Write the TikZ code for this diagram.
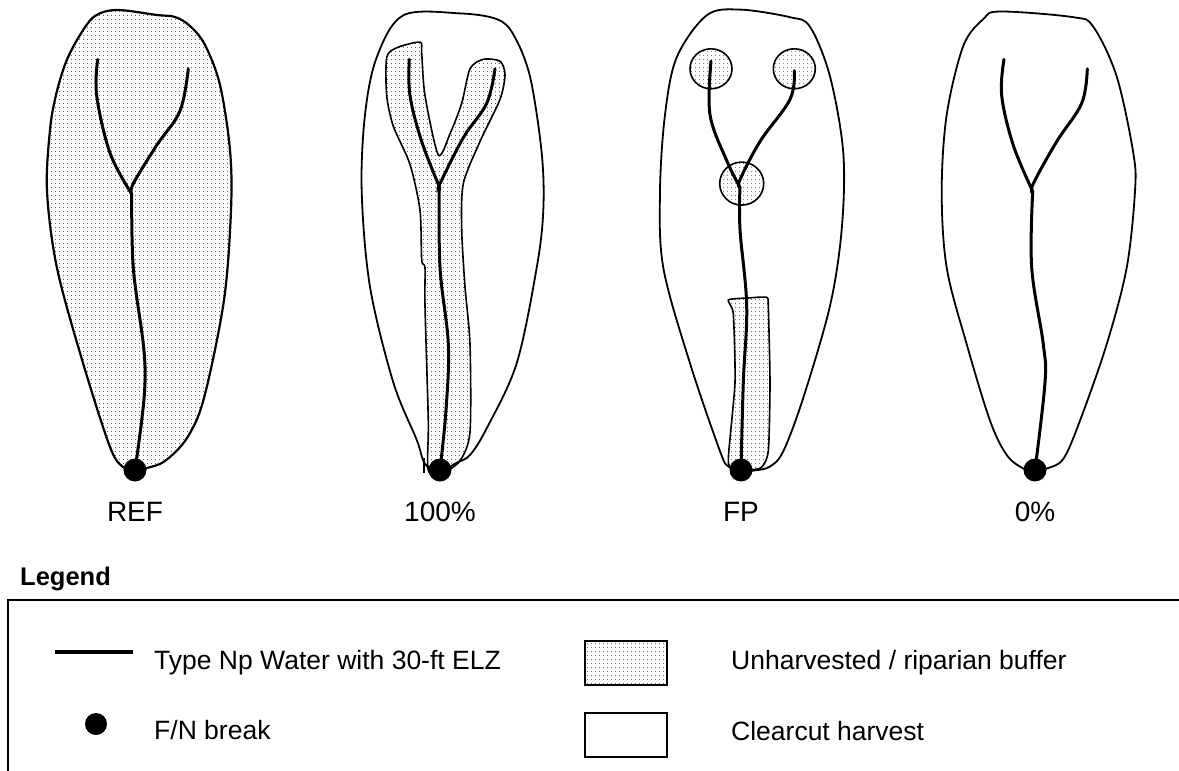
\documentclass[tikz,border=0pt]{standalone}
\usepackage{fontspec}
\setmainfont{Liberation Sans}
\usetikzlibrary{patterns.meta}
\tikzdeclarepattern{
  name=stipple,
  type=uncolored,
  bounding box={(-2pt,-2pt) and (2pt,2pt)},
  tile size={(4pt,4pt)},
  code={\pgfpathcircle{\pgfpointorigin}{0.6pt}\pgfusepath{fill}}
}
\tikzset{
  outline/.style={draw=black, line width=1.8pt},
  buffer/.style={draw=black, line width=1.6pt, pattern={stipple}, pattern color=black!85},
  stream/.style={draw=black, line width=3pt, line cap=round},
  fnbreak/.style={circle, fill=black, inner sep=0pt, minimum width=23pt, minimum height=21pt},
  lbl/.style={font=\fontsize{28}{32}\selectfont, inner sep=0pt},
  legtext/.style={font=\fontsize{26.5}{30}\selectfont, anchor=west, inner sep=0pt},
  legbox/.style={draw=black, line width=2.6pt}
}
\begin{document}
\begin{tikzpicture}[x=1pt, y=-1pt]
\useasboundingbox (0,0) rectangle (1179,771);

% ---------------- REF ----------------
\path[outline, pattern={stipple}, pattern color=black!85, line width=2.2pt]
  plot[smooth cycle, tension=0.55] coordinates {
  (117,10) (157,15) (175,17) (190,26) (205,45) (220,85) (230,150) (231,210)
  (224,300) (204,398) (187,438) (165,461) (147,468) (135,471) (123,467)
  (110,447) (83,363) (57,268) (47,191) (50,130) (56,95) (66,62) (80,35) (95,16)};
\draw[stream] plot[smooth, tension=0.6] coordinates {(97.7,59.3) (96.7,95.6) (110,153) (131.7,194)};
\draw[stream] plot[smooth, tension=0.6] coordinates {(188.3,68.8) (180,110.9) (156.7,145.3) (133.3,183.6) (131.7,195)};
\draw[stream] plot[smooth, tension=0.6] coordinates {(131.7,194) (133.3,267.7) (143.3,344) (145,382) (141.7,420.6) (135,470)};
\node[fnbreak] (d1) at (135,470) {};
\node[lbl] (l1) at (135,512) {REF};

% ---------------- 100% ----------------
\path[outline] plot[smooth cycle, tension=0.55] coordinates {
  (403.3,15.3) (460,13.4) (496.7,19.1) (513.3,34.4) (530,76.5) (541.7,153)
  (543.3,210.3) (536.7,267.7) (516.7,363.3) (486.7,428.3) (470,455) (456.7,462.7)
  (440,471) (425,464) (416.7,439.8) (393.3,382.4) (370,286.8) (361.7,191.2)
  (365,114.7) (376.7,57.4)};
\path[buffer] plot[smooth cycle, tension=0.45] coordinates {
  (386.7,57.4) (396.7,47.8) (420,42.1) (421.7,53.5) (425,95.6) (438.3,154.9)
  (450,133.8) (461.7,103.3) (470,68.8) (483.3,59.3) (500,61.2) (505,74.6)
  (500,99.4) (480,141.5) (463.3,183.6) (461.7,229.4) (465,286.8) (470,344.2)
  (470,432.1) (460,460.8) (443.3,472.3) (428.3,470.4) (428.3,420.6) (425,305.9)
  (425,267.7) (421.7,260) (420,210.3) (410,164.4) (393.3,126.2) (386.7,95.6)};
\draw[line width=1.4pt] (424,458) -- (424,473);
\draw[stream] plot[smooth, tension=0.6] coordinates {(409.3,59.3) (410,95.6) (421.7,141.5) (439.3,186.5)};
\draw[stream] plot[smooth, tension=0.6] coordinates {(495,68.8) (486.7,103.3) (463.3,137.7) (440,183.6) (439.3,187.4)};
\draw[stream] plot[smooth, tension=0.6] coordinates {(439.3,186.5) (440,267.7) (448.3,344.2) (446,410) (440,470)};
\node[fnbreak] (d2) at (440,470) {};
\node[lbl] (l2) at (440,512) {100\%};

% ---------------- FP ----------------
\path[outline] plot[smooth cycle, tension=0.55] coordinates {
  (706.7,15.3) (740,9.6) (790,17.2) (810,26.8) (830,76.5) (843.3,153)
  (841.7,229.4) (830,305.9) (803.3,397.7) (783.3,451.2) (770,466.5) (755,470.4)
  (741,471) (728.3,466.5) (720,451.2) (690,363.3) (663.3,267.7) (660,191.2)
  (665,114.7) (676.7,57.4)};
\path[buffer] (711,68.8) circle[x radius=21, y radius=20];
\path[buffer] (794.3,68.8) circle[x radius=21, y radius=20];
\path[buffer] (741.7,183.6) circle[x radius=22, y radius=21.5];
\path[buffer] plot[smooth cycle, tension=0.35] coordinates {
  (728.3,300) (748,298) (766.7,297.3) (768.3,305.9) (770,382.4) (768.3,451.2)
  (760,468.5) (733.3,468.5) (728.3,458.9) (735,382.4) (733.3,313.6)};
\draw[stream] plot[smooth, tension=0.6] coordinates {(711,61.2) (710,114.7) (726.7,160.6) (740,187.4)};
\draw[stream] plot[smooth, tension=0.6] coordinates {(794.3,70.7) (790,99.4) (760,141.5) (740,179.7) (740,187.4)};
\draw[stream] plot[smooth, tension=0.6] coordinates {(740,187.4) (740,229.4) (746.7,305.9) (743.3,382.4) (741,470)};
\node[fnbreak] (d3) at (741,470) {};
\node[lbl] (l3) at (741,512) {FP};

% ---------------- 0% ----------------
\path[outline] plot[smooth cycle, tension=0.55] coordinates {
  (1000,11.5) (1073.3,17.2) (1093.3,26.8) (1116.7,76.5) (1133.3,153) (1135,191.2)
  (1126.7,267.7) (1106.7,344.2) (1080,420.6) (1063.3,458.9) (1046.7,468.5)
  (1035,471) (1023.3,468.5) (1006.7,455) (990,420.6) (966.7,344.2) (946.7,267.7)
  (941.7,191.2) (946.7,114.7) (963.3,45.9) (983.3,19.1)};
\draw[stream] plot[smooth, tension=0.6] coordinates {(1004,59.3) (1001.7,95.6) (1013.3,145.3) (1033,192)};
\draw[stream] plot[smooth, tension=0.6] coordinates {(1087.3,68.8) (1081.7,103.3) (1056.7,141.5) (1033.3,183.6) (1032.7,193.1)};
\draw[stream] plot[smooth, tension=0.6] coordinates {(1032.7,192) (1031.7,267.7) (1043.3,344.2) (1045,382.4) (1035,470)};
\node[fnbreak] (d4) at (1035,470) {};
\node[lbl] (l4) at (1035,512) {0\%};

% ---------------- Legend ----------------
\node[anchor=west, inner sep=0pt, font=\bfseries\fontsize{25.5}{29}\selectfont] (legtitle) at (20,579) {Legend};
\coordinate (frameR) at (1179,600);
\coordinate (frameTL) at (8,600);
\coordinate (frameB) at (8,771);
\draw[line width=2.6pt] (frameR) -- (frameTL) -- (frameB);

\coordinate (wl1) at (55,652);
\coordinate (wl2) at (133,652);
\draw[line width=4.2pt] (wl1) -- (wl2);
\node[legtext] (t1) at (154,663) {Type Np Water with 30-ft ELZ};

\node[fnbreak, minimum width=22pt, minimum height=22pt] (ld) at (96,724) {};
\node[legtext] (t2) at (154,730) {F/N break};

\node[legbox, pattern={stipple}, pattern color=black!85, minimum width=82pt, minimum height=44pt, inner sep=0pt] (b1) at (626,663) {};
\node[legtext] (t3) at (731,663) {Unharvested / riparian buffer};

\node[legbox, minimum width=82pt, minimum height=44pt, inner sep=0pt] (b2) at (626,735) {};
\node[legtext] (t4) at (731,731) {Clearcut harvest};
\end{tikzpicture}
\end{document}
